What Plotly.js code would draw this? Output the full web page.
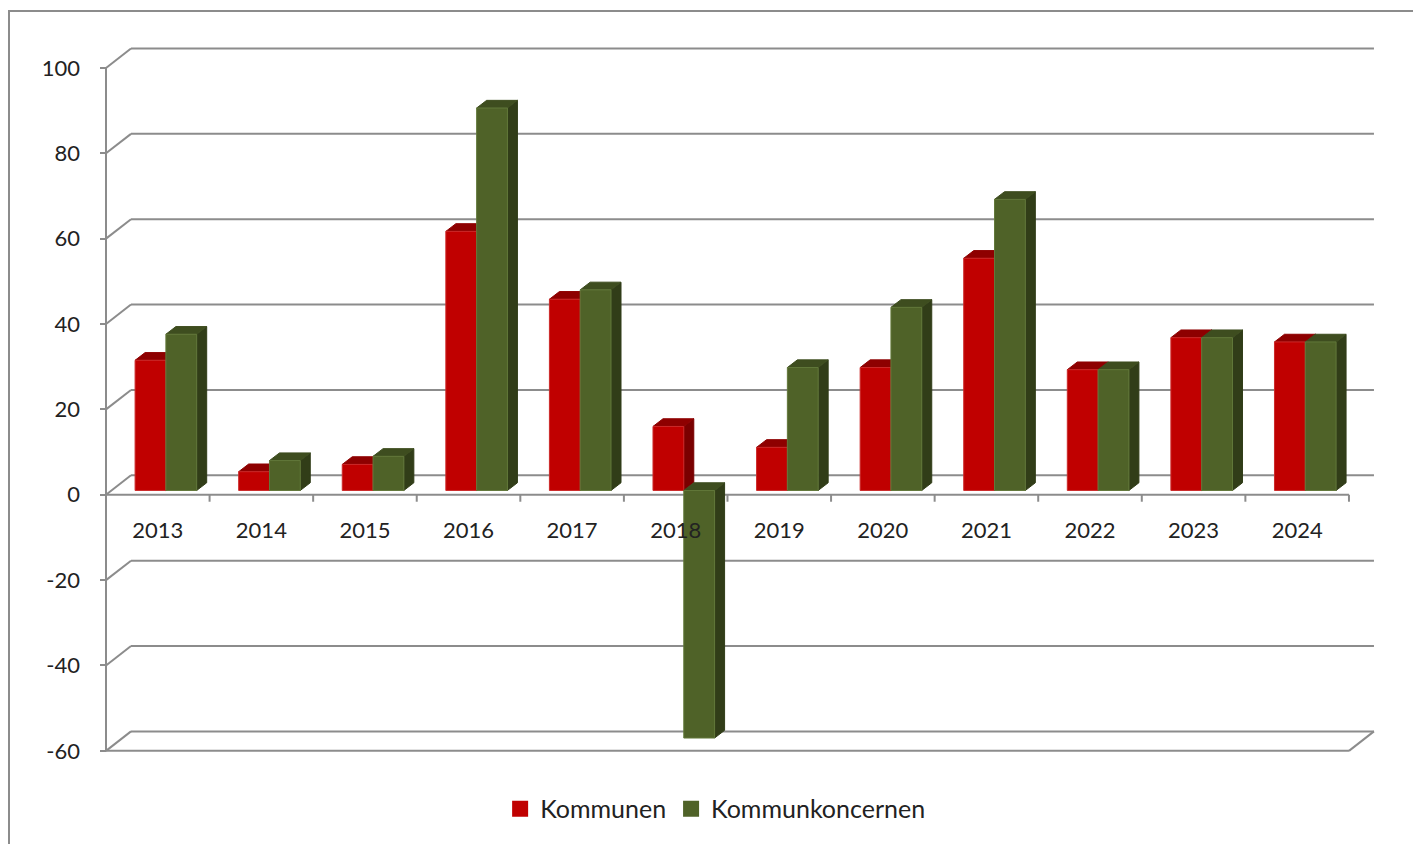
<!DOCTYPE html>
<html>
<head>
<meta charset="utf-8">
<script src="https://cdn.plot.ly/plotly-3.0.1.min.js"></script>
<style>html,body{margin:0;padding:0;background:#fff;}#chart{width:1413px;height:844px;}</style>
</head>
<body>
<div id="chart"></div>
<script>
// ---- data ----
const years = ['2013','2014','2015','2016','2017','2018','2019','2020','2021','2022','2023','2024'];
const kommunen = [30.5, 4.4, 6.1, 60.7, 44.8, 15.0, 10.1, 28.8, 54.4, 28.3, 35.8, 34.8];
const kommunkoncernen = [36.6, 7.0, 8.0, 89.6, 47.0, -58.0, 28.8, 42.9, 68.2, 28.3, 35.8, 34.8];
const yTicks = [-60, -40, -20, 0, 20, 40, 60, 80, 100];
const seriesNames = ['Kommunen', 'Kommunkoncernen'];

// ---- geometry / style ----
const W = 1413, H = 844;
const M = {l: 100, r: 18, t: 40, b: 74};
const plotW = W - M.l - M.r, plotH = H - M.t - M.b;
const PX_X = 103.58, PX_Y = 4.28;          // px per category / per unit
const X0PX = 6, Y0PX = 496 - M.t;            // position of x=-0.5 and y=0 inside plot
const xRange = [-0.5 - X0PX / PX_X, -0.5 + (plotW - X0PX) / PX_X];
const yRange = [-(plotH - Y0PX) / PX_Y, Y0PX / PX_Y];
const WX = 25 / PX_X, WY = 19.5 / PX_Y;      // wall depth
const BX = 8.1 / PX_X, BY = 4.3 / PX_Y;      // bar plane offset
const BW = 30.8 / PX_X;                      // bar width
const DX = 10 / PX_X, DY = 7.7 / PX_Y;       // bar depth
const gridColor = '#8c8c8c';
const textColor = '#222222';
const colors = {
  front: ['#C00000', '#4F6228'],
  top:   ['#8E0000', '#3E4D1F'],
  side:  ['#7A0000', '#313D18'],
  edge:  ['#CC2A2A', '#62783A']
};
const nCat = years.length;
const xMin = -0.5, xMax = nCat - 0.5;
const yMin = yTicks[0], yMax = yTicks[yTicks.length - 1];

// ---- traces: every bar drawn as 3 faces (side, top, front) ----
const traces = [];
[kommunen, kommunkoncernen].forEach((vals, s) => {
  const sideX = [], sideY = [], topX = [], topY = [], frX = [], frY = [];
  vals.forEach((v, i) => {
    const xl = i + BX - BW + s * BW;
    const xr = xl + BW;
    const yt = BY + Math.max(v, 0);
    const yb = BY + Math.min(v, 0);
    sideX.push(xr, xr, xr + DX, xr + DX, xr, null);
    sideY.push(yb, yt, yt + DY, yb + DY, yb, null);
    topX.push(xl, xr, xr + DX, xl + DX, xl, null);
    topY.push(yt, yt, yt + DY, yt + DY, yt, null);
    frX.push(xl, xr, xr, xl, xl, null);
    frY.push(yb, yb, yt, yt, yb, null);
  });
  traces.push({type: 'scatter', mode: 'lines', x: sideX, y: sideY, fill: 'toself',
    fillcolor: colors.side[s], line: {color: colors.side[s], width: 1},
    showlegend: false, hoverinfo: 'skip'});
  traces.push({type: 'scatter', mode: 'lines', x: topX, y: topY, fill: 'toself',
    fillcolor: colors.top[s], line: {color: colors.top[s], width: 1},
    showlegend: false, hoverinfo: 'skip'});
  traces.push({type: 'scatter', mode: 'lines', x: frX, y: frY, fill: 'toself',
    fillcolor: colors.front[s], line: {color: colors.edge[s], width: 1},
    showlegend: false, hoverinfo: 'skip'});
});
// legend entries
seriesNames.forEach((n, s) => {
  traces.push({type: 'scatter', mode: 'markers', x: [null], y: [null], name: n,
    marker: {symbol: 'square', size: 16, color: colors.front[s]}, hoverinfo: 'skip'});
});

// ---- decoration shapes (walls, axes) ----
const shapes = [];
const ln = (x0, y0, x1, y1) => ({type: 'line', xref: 'x', yref: 'y', x0, y0, x1, y1,
  line: {color: gridColor, width: 2}, layer: 'below'});
yTicks.forEach(v => {
  shapes.push(ln(xMin, v, xMin + WX, v + WY));
  shapes.push(ln(xMin + WX, v + WY, xMax + WX, v + WY));
});
shapes.push(ln(xMin, yMin, xMax, yMin));
shapes.push(ln(xMax, yMin, xMax + WX, yMin + WY));
shapes.push(ln(xMin, yMin, xMin, yMax));
shapes.push(ln(xMin, 0, xMax, 0));
for (let k = 0; k <= nCat; k++) {
  shapes.push(ln(xMin + k, 0, xMin + k, -7 / PX_Y));
}
// outer chart border
shapes.push({type: 'rect', xref: 'paper', yref: 'paper',
  x0: (9 - M.l) / plotW, x1: (W + 10 - M.l) / plotW,
  y0: (M.t + plotH - (H + 10)) / plotH, y1: (M.t + plotH - 11) / plotH,
  line: {color: gridColor, width: 2}, fillcolor: 'rgba(0,0,0,0)', layer: 'below'});

const family = 'Lato, "Open Sans", sans-serif';
const axisFont = {family: family, size: 22, color: textColor};
const legendFont = {family: family, size: 25, color: textColor};

const layout = {
  width: W, height: H,
  margin: M,
  paper_bgcolor: '#ffffff', plot_bgcolor: '#ffffff',
  font: axisFont,
  showlegend: true,
  legend: {orientation: 'h', x: 0.475, xanchor: 'center', y: (M.t + plotH - 811) / plotH, yanchor: 'middle',
    font: legendFont, itemsizing: 'trace', bgcolor: 'rgba(0,0,0,0)'},
  xaxis: {range: xRange, showgrid: false, zeroline: false, showline: false,
    tickvals: years.map((y, i) => i), ticktext: years, ticks: '',
    anchor: 'free', position: (plotH - Y0PX) / plotH, ticklabelstandoff: 20,
    tickfont: axisFont, fixedrange: true},
  yaxis: {range: yRange, showgrid: false, zeroline: false, showline: false,
    tickvals: yTicks, ticktext: yTicks.map(String), ticks: 'inside', ticklen: 6, tickwidth: 2,
    tickcolor: gridColor, ticklabelstandoff: 19, tickfont: axisFont, fixedrange: true},
  shapes: shapes,
  hovermode: false
};

Plotly.newPlot('chart', traces, layout, {displayModeBar: false});
</script>
</body>
</html>
